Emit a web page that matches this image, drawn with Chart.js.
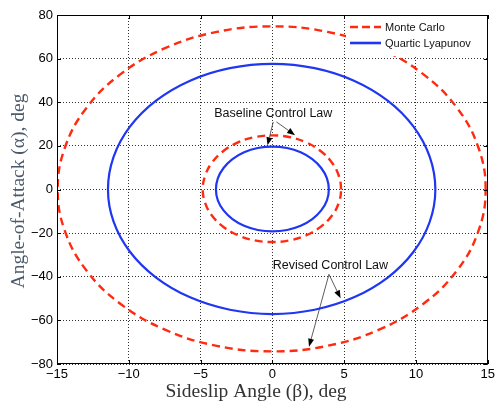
<!DOCTYPE html>
<html><head><meta charset="utf-8">
<script src="https://cdn.jsdelivr.net/npm/chart.js@4.4.1/dist/chart.umd.min.js"></script>
<style>html,body{margin:0;padding:0;background:#fff}canvas{display:block}</style>
</head><body>
<canvas id="c" width="498" height="404"></canvas>
<script>
// ---- data ----
const xTickValues = [-15, -10, -5, 0, 5, 10, 15];
const yTickValues = [-80, -60, -40, -20, 0, 20, 40, 60, 80];
const xTickLabels = ['\u221215', '\u221210', '\u22125', '0', '5', '10', '15'];
const yTickLabels = ['\u221280', '\u221260', '\u221240', '\u221220', '0', '20', '40', '60', '80'];

const seriesNames = ['Monte Carlo', 'Quartic Lyapunov'];

// Revised control law, Monte Carlo boundary
const mcRevisedBeta  = [14.85, 14.34, 12.86, 10.50, 7.43, 3.84, 0, -3.87, -7.48, -10.57, -12.95, -14.44, -14.95, -14.44, -12.95, -10.57, -7.48, -3.87, 0, 3.84, 7.43, 10.50, 12.86, 14.34, 14.85];
const mcRevisedAlpha = [0, 19.36, 37.4, 52.89, 64.78, 72.25, 74.8, 72.25, 64.78, 52.89, 37.4, 19.36, 0, -19.2, -37.1, -52.47, -64.26, -71.67, -74.2, -71.67, -64.26, -52.47, -37.1, -19.2, 0];
// Revised control law, quartic Lyapunov estimate
const qlRevisedBeta  = [11.35, 10.96, 9.83, 8.03, 5.68, 2.94, 0, -2.96, -5.73, -8.10, -9.92, -11.06, -11.45, -11.06, -9.92, -8.10, -5.73, -2.96, 0, 2.94, 5.68, 8.03, 9.83, 10.96, 11.35];
const qlRevisedAlpha = [0, 14.91, 28.8, 40.73, 49.88, 55.64, 57.6, 55.64, 49.88, 40.73, 28.8, 14.91, 0, -14.78, -28.55, -40.38, -49.45, -55.15, -57.1, -55.15, -49.45, -40.38, -28.55, -14.78, 0];
// Baseline control law, Monte Carlo boundary
const mcBaseBeta  = [4.78, 4.62, 4.14, 3.38, 2.39, 1.24, 0, -1.26, -2.43, -3.43, -4.20, -4.68, -4.85, -4.68, -4.20, -3.43, -2.43, -1.26, 0, 1.24, 2.39, 3.38, 4.14, 4.62, 4.78];
const mcBaseAlpha = [0, 6.42, 12.4, 17.54, 21.48, 23.95, 24.8, 23.95, 21.48, 17.54, 12.4, 6.42, 0, -6.24, -12.05, -17.04, -20.87, -23.28, -24.1, -23.28, -20.87, -17.04, -12.05, -6.24, 0];
// Baseline control law, quartic Lyapunov estimate
const qlBaseBeta  = [3.93, 3.80, 3.40, 2.78, 1.97, 1.02, 0, -1.02, -1.97, -2.78, -3.40, -3.80, -3.93, -3.80, -3.40, -2.78, -1.97, -1.02, 0, 1.02, 1.97, 2.78, 3.40, 3.80, 3.93];
const qlBaseAlpha = [0, 5.10, 9.85, 13.93, 17.06, 19.03, 19.7, 19.03, 17.06, 13.93, 9.85, 5.10, 0, -4.97, -9.6, -13.58, -16.63, -18.55, -19.2, -18.55, -16.63, -13.58, -9.6, -4.97, 0];

// annotations: text + arrow tails/tips in data units
const annotationTexts = ['Baseline Control Law', 'Revised Control Law'];
const annotationTextPos = [[0.06, 35.0], [4.04, -34.65]];
const annotationArrows = [
  [[0.06, 31.0], [-0.34, 20.3]],
  [[0.28, 31.0], [1.58, 24.9]],
  [[3.94, -38.9], [4.75, -49.9]],
  [[3.94, -38.9], [2.55, -72.1]]
];

const xTitle = 'Sideslip Angle (\u03B2), deg';
const yTitle = 'Angle-of-Attack (\u03B1), deg';

// ---- styles ----
const RED = '#ff2a10';
const BLUE = '#1f36f2';
// closed curve: wrap one point on each side so the spline is smooth at the seam,
// and hide the two wrap segments
function closedPts(xs, ys) {
  const n = xs.length; // last point repeats the first
  const p = xs.map((x, i) => ({x: x, y: ys[i]}));
  return [p[n - 2]].concat(p, [p[1]]);
}
const hideWrap = {
  borderColor: ctx => (ctx.p0DataIndex === 0 || ctx.p1DataIndex === ctx.chart.data.datasets[ctx.datasetIndex].data.length - 1) ? 'rgba(0,0,0,0)' : undefined
};
const redStyle = {borderColor: RED, borderWidth: 2.4, borderDash: [8, 5], pointRadius: 0, showLine: true, tension: 0.4, fill: false, segment: hideWrap};
const blueStyle = {borderColor: BLUE, borderWidth: 2.2, pointRadius: 0, showLine: true, tension: 0.4, fill: false, segment: hideWrap};

const datasets = [
  Object.assign({label: seriesNames[0], data: closedPts(mcRevisedBeta, mcRevisedAlpha)}, redStyle),
  Object.assign({label: seriesNames[1], data: closedPts(qlRevisedBeta, qlRevisedAlpha)}, blueStyle),
  Object.assign({label: seriesNames[0] + ' (baseline)', data: closedPts(mcBaseBeta, mcBaseAlpha)}, redStyle),
  Object.assign({label: seriesNames[1] + ' (baseline)', data: closedPts(qlBaseBeta, qlBaseAlpha)}, blueStyle)
];

function arrow(ctx, x1, y1, x2, y2) {
  const ang = Math.atan2(y2 - y1, x2 - x1);
  const L = 8, W = 3;
  const bx = x2 - L * Math.cos(ang), by = y2 - L * Math.sin(ang);
  ctx.beginPath(); ctx.moveTo(x1, y1); ctx.lineTo(bx, by); ctx.stroke();
  ctx.beginPath();
  ctx.moveTo(x2, y2);
  ctx.lineTo(bx + W * Math.sin(ang), by - W * Math.cos(ang));
  ctx.lineTo(bx - W * Math.sin(ang), by + W * Math.cos(ang));
  ctx.closePath(); ctx.fill();
}

const decor = {
  id: 'decor',
  afterDatasetsDraw(chart) {
    const ctx = chart.ctx, a = chart.chartArea;
    const xs = chart.scales.x, ys = chart.scales.y;
    ctx.save();
    // inward ticks
    ctx.strokeStyle = '#000'; ctx.lineWidth = 1; ctx.setLineDash([]);
    ctx.beginPath();
    xTickValues.forEach(v => {
      const px = Math.round(xs.getPixelForValue(v)) + 0.5;
      ctx.moveTo(px, a.bottom); ctx.lineTo(px, a.bottom - 4);
      ctx.moveTo(px, a.top); ctx.lineTo(px, a.top + 4);
    });
    yTickValues.forEach(v => {
      const py = Math.round(ys.getPixelForValue(v)) + 0.5;
      ctx.moveTo(a.left, py); ctx.lineTo(a.left + 4, py);
      ctx.moveTo(a.right, py); ctx.lineTo(a.right - 4, py);
    });
    ctx.stroke();
    // annotations
    ctx.fillStyle = '#111'; ctx.strokeStyle = '#333'; ctx.lineWidth = 0.8;
    ctx.font = '12.5px "Liberation Sans", Arial, sans-serif';
    ctx.textAlign = 'center'; ctx.textBaseline = 'middle';
    annotationTexts.forEach((t, i) => {
      ctx.fillText(t, xs.getPixelForValue(annotationTextPos[i][0]), ys.getPixelForValue(annotationTextPos[i][1]));
    });
    ctx.fillStyle = '#000';
    annotationArrows.forEach(([p, q]) => {
      arrow(ctx, xs.getPixelForValue(p[0]), ys.getPixelForValue(p[1]), xs.getPixelForValue(q[0]), ys.getPixelForValue(q[1]));
    });
    // legend
    const lx = 346, ly = a.top + 1, lw = a.right - lx - 1, lh = 40;
    ctx.fillStyle = '#fff';
    ctx.fillRect(lx, ly, lw, lh);
    const entries = [datasets[0], datasets[1]];
    entries.forEach((d, i) => {
      const yy = 27 + i * 16;
      ctx.strokeStyle = d.borderColor; ctx.lineWidth = 2.6;
      ctx.setLineDash(d.borderDash ? [8, 4] : []);
      ctx.beginPath(); ctx.moveTo(350, yy); ctx.lineTo(381, yy); ctx.stroke();
      ctx.setLineDash([]);
      ctx.fillStyle = '#111';
      ctx.font = '11px "Liberation Sans", Arial, sans-serif';
      ctx.textAlign = 'left'; ctx.textBaseline = 'middle';
      ctx.fillText(d.label, 385, yy + 0.5);
    });
    // axes box
    ctx.strokeStyle = '#000'; ctx.lineWidth = 1;
    ctx.strokeRect(Math.round(a.left) + 0.5, Math.round(a.top) + 0.5, Math.round(a.right - a.left) - 1, Math.round(a.bottom - a.top) - 1);
    ctx.restore();
  },
  afterDraw(chart) {
    const ctx = chart.ctx;
    ctx.save();
    ctx.font = '19.5px "Liberation Serif", "Times New Roman", serif';
    ctx.fillStyle = '#333';
    ctx.textAlign = 'center'; ctx.textBaseline = 'alphabetic';
    ctx.fillText(xTitle, 256, 397);
    ctx.translate(24, 191);
    ctx.rotate(-Math.PI / 2);
    ctx.fillStyle = '#4a5a6c';
    ctx.fillText(yTitle, 0, 0);
    ctx.restore();
  }
};

new Chart(document.getElementById('c'), {
  type: 'scatter',
  data: {datasets: datasets},
  options: {
    responsive: false, animation: false, events: [],
    layout: {padding: {top: 15, right: 9, left: 0, bottom: 0}},
    plugins: {legend: {display: false}, tooltip: {enabled: false}},
    scales: {
      x: {
        type: 'linear', min: -15, max: 15,
        afterBuildTicks: s => { s.ticks = xTickValues.map(v => ({value: v})); },
        afterFit: s => { s.height = 40; },
        ticks: {color: '#000', padding: 3, font: {family: '"Liberation Sans", Arial, sans-serif', size: 13},
                callback: (v) => xTickLabels[xTickValues.indexOf(v)], maxRotation: 0, autoSkip: false},
        grid: {color: '#333', lineWidth: 1, drawTicks: false},
        border: {display: false, dash: [1, 2]}
      },
      y: {
        type: 'linear', min: -80, max: 80,
        afterBuildTicks: s => { s.ticks = yTickValues.map(v => ({value: v})); },
        afterFit: s => { s.width = 57; },
        ticks: {color: '#000', padding: 4, font: {family: '"Liberation Sans", Arial, sans-serif', size: 13},
                callback: (v) => yTickLabels[yTickValues.indexOf(v)], autoSkip: false},
        grid: {color: '#333', lineWidth: 1, drawTicks: false},
        border: {display: false, dash: [1, 2]}
      }
    }
  },
  plugins: [decor]
});
</script>
</body></html>
